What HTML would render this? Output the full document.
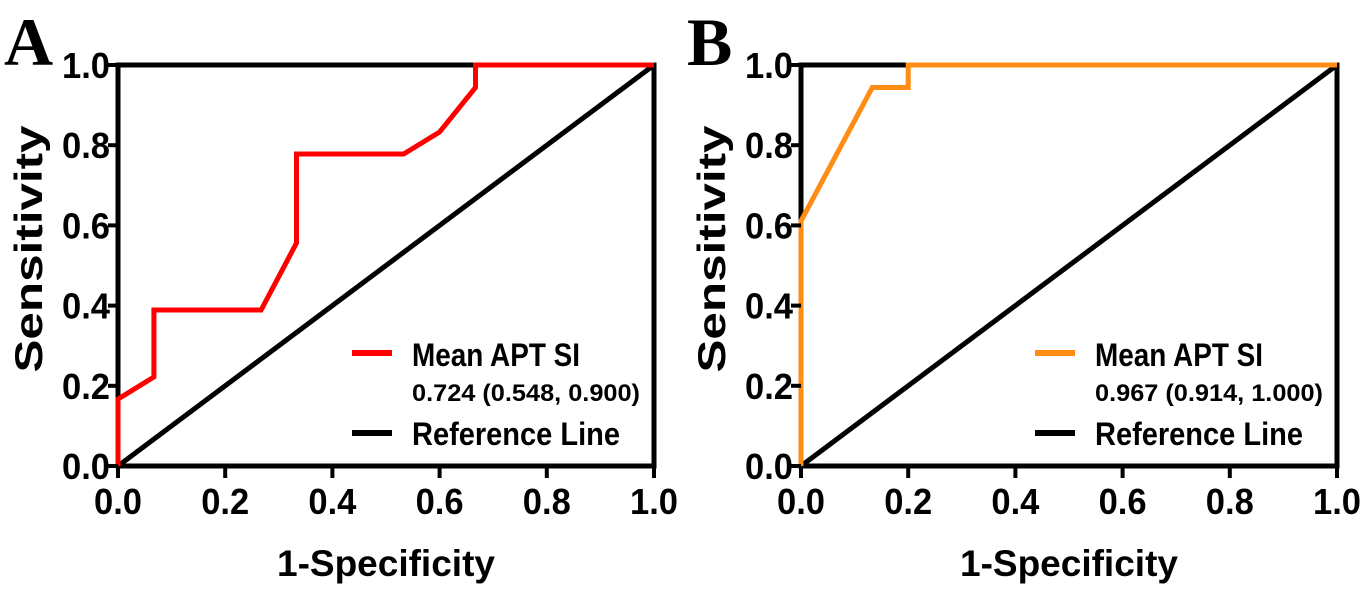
<!DOCTYPE html>
<html><head><meta charset="utf-8"><style>
html,body{margin:0;padding:0;background:#fff;width:1366px;height:593px;overflow:hidden}
svg text{font-family:"Liberation Sans",Arial,sans-serif;font-weight:bold;fill:#000}
</style></head><body>
<svg id="chart" width="1366" height="593" viewBox="0 0 1366 593" xmlns="http://www.w3.org/2000/svg"></svg>
<script>
const ticks = [0, 0.2, 0.4, 0.6, 0.8, 1.0];
const tickLabels = ["0.0","0.2","0.4","0.6","0.8","1.0"];
const aFpr = [0, 0, 0.067, 0.067, 0.267, 0.333, 0.333, 0.533, 0.6, 0.667, 0.667, 1];
const aTpr = [0, 0.167, 0.222, 0.389, 0.389, 0.556, 0.778, 0.778, 0.833, 0.944, 1, 1];
const bFpr = [0, 0, 0.133, 0.2, 0.2, 1];
const bTpr = [0, 0.611, 0.944, 0.944, 1, 1];
const refX = [0, 1];
const refY = [0, 1];
const panelLetters = ["A", "B"];
const aucLabels = ["0.724 (0.548, 0.900)", "0.967 (0.914, 1.000)"];
const seriesName = "Mean APT SI";

const NS = "http://www.w3.org/2000/svg";
const svg = document.getElementById("chart");
function mk(tag, attrs, parent){const e=document.createElementNS(NS,tag);for(const k in attrs)e.setAttribute(k,attrs[k]);(parent||svg).appendChild(e);return e;}

const panels = [
  {x0:118, x1:654, fpr:aFpr, tpr:aTpr, color:"#ff0000", id:"a"},
  {x0:801, x1:1337, fpr:bFpr, tpr:bTpr, color:"#ff8c14", id:"b"}
];
const yTop = 65, yBot = 466;

panels.forEach((p, i) => {
  const g = mk("g", {});
  
  
  const sx = v => p.x0 + v * (p.x1 - p.x0);
  const sy = v => yBot - v * (yBot - yTop);

  const L = mk("text", {x: p.x0 - 114, y: 65, "font-size": 68, style: "font-family:'Liberation Serif',serif;font-weight:bold"}, g);
  L.textContent = panelLetters[i];
  
  

  const fr = mk("rect", {x:p.x0, y:yTop, width:p.x1-p.x0, height:yBot-yTop, fill:"none", stroke:"#000", "stroke-width":5}, g);
  
  

  const ref = mk("polyline", {points: refX.map((v,k)=>sx(v)+","+sy(refY[k])).join(" "), fill:"none", stroke:"#000", "stroke-width":5}, g);
  
  

  const roc = mk("polyline", {points: p.fpr.map((v,k)=>sx(v)+","+sy(p.tpr[k])).join(" "), fill:"none", stroke:p.color, "stroke-width":5, "stroke-linejoin":"miter"}, g);
  
  

  ticks.forEach((t, k) => {
    const xt = mk("line", {x1:sx(t), x2:sx(t), y1:yBot, y2:yBot+12, stroke:"#000", "stroke-width":4}, g);
    
    
    const xl = mk("text", {x:sx(t), y:yBot+48, "font-size":36, "text-anchor":"middle", textLength:48, lengthAdjust:"spacingAndGlyphs"}, g);
    xl.textContent = tickLabels[k];
    
    
    const yt = mk("line", {x1:p.x0-10, x2:p.x0, y1:sy(t), y2:sy(t), stroke:"#000", "stroke-width":4}, g);
    
    
    const yl = mk("text", {x:p.x0-8, y:sy(t)+13, "font-size":36, "text-anchor":"end", textLength:48, lengthAdjust:"spacingAndGlyphs"}, g);
    yl.textContent = tickLabels[k];
    
    
  });

  const xt = mk("text", {x:(p.x0+p.x1)/2, y:576, "font-size":37, "text-anchor":"middle"}, g);
  xt.textContent = "1-Specificity";
  
  
  const yT = mk("text", {x:0, y:0, "font-size":39, "text-anchor":"middle", textLength:247, lengthAdjust:"spacingAndGlyphs", transform:"translate("+(p.x0-76)+",249) rotate(-90)"}, g);
  yT.textContent = "Sensitivity";
  
  

  const lx = p.x0 + 234;
  const l1 = mk("line", {x1:lx, x2:lx+40, y1:353, y2:353, stroke:p.color, "stroke-width":6}, g);
  
  
  const t1 = mk("text", {x:lx+60, y:366, "font-size":32, textLength:168, lengthAdjust:"spacingAndGlyphs"}, g);
  t1.textContent = seriesName;
  
  
  const t2 = mk("text", {x:lx+60, y:401, "font-size":24, textLength:228, lengthAdjust:"spacingAndGlyphs"}, g);
  t2.textContent = aucLabels[i];
  
  
  const l2 = mk("line", {x1:lx, x2:lx+40, y1:433, y2:433, stroke:"#000", "stroke-width":6}, g);
  
  
  const t3 = mk("text", {x:lx+60, y:445, "font-size":32, textLength:208, lengthAdjust:"spacingAndGlyphs"}, g);
  t3.textContent = "Reference Line";
  
  
});
</script>
</body></html>
